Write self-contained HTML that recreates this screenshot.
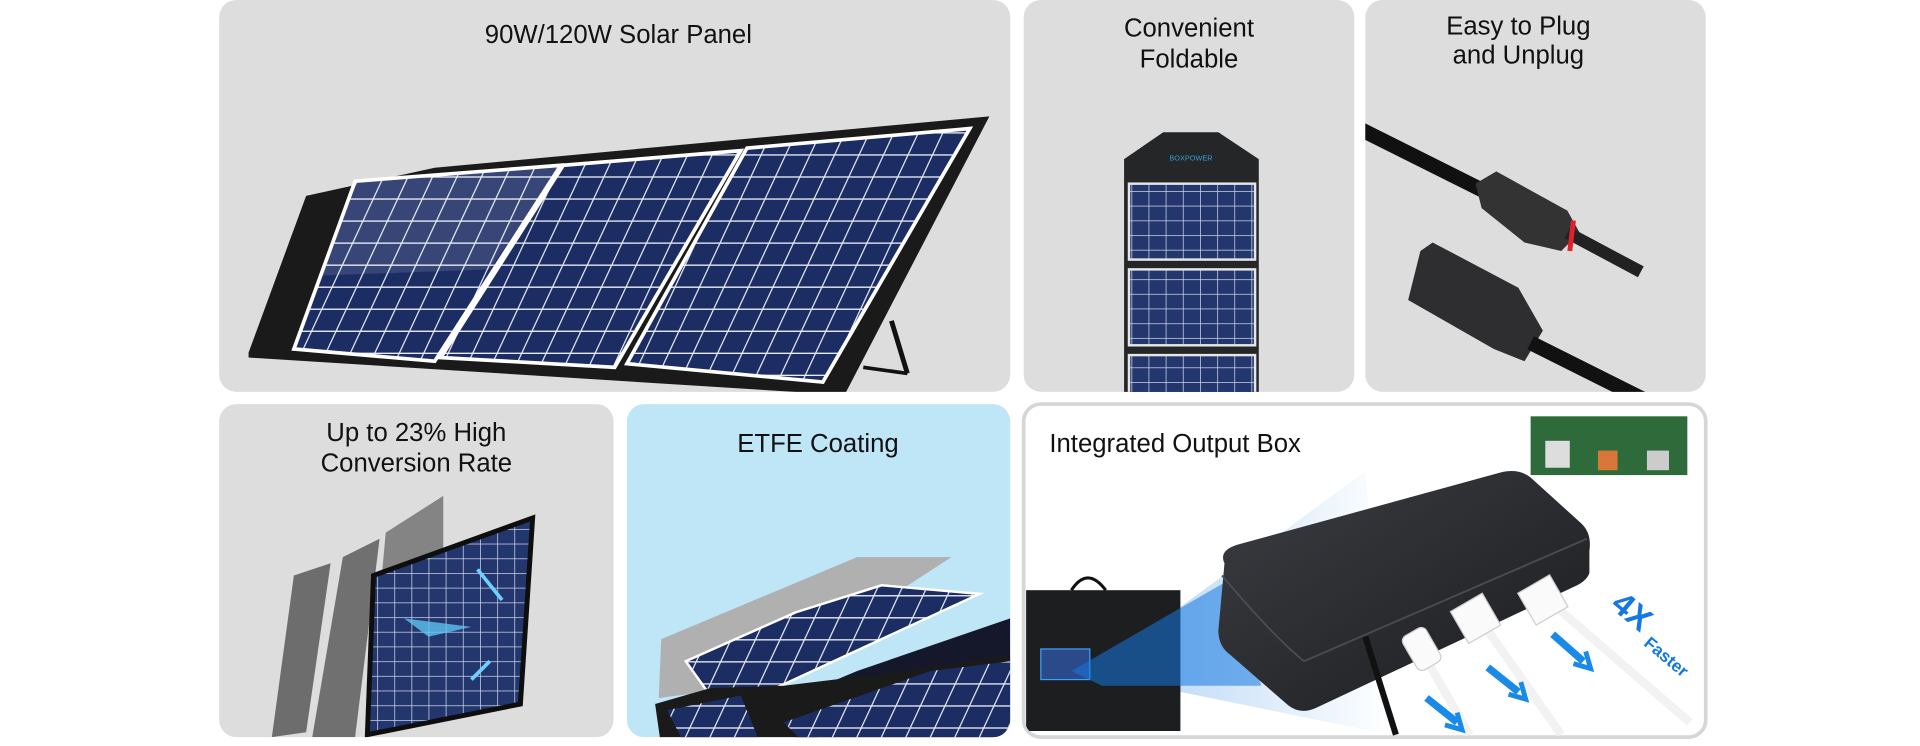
<!DOCTYPE html>
<html><head><meta charset="utf-8"><style>
html,body{margin:0;padding:0;background:#fff;width:1920px;height:746px;overflow:hidden}
svg{display:block}
text{font-family:"Liberation Sans",sans-serif;fill:#111}
</style></head><body>
<svg width="1920" height="746" viewBox="0 0 1568 609.25" preserveAspectRatio="none" xmlns="http://www.w3.org/2000/svg">
<defs>
<pattern id="cells" width="20" height="18" patternUnits="userSpaceOnUse" patternTransform="skewX(-25)">
<rect width="20" height="18" fill="#1c2d63"/><path d="M0 0H20M0 0V18" stroke="#e8ecf5" stroke-width="2.2"/></pattern>
<pattern id="cells2" width="14" height="12" patternUnits="userSpaceOnUse">
<rect width="14" height="12" fill="#24366e"/><path d="M0 0H14M0 0V12" stroke="#cfd6e6" stroke-width="1.2"/></pattern>
<linearGradient id="beam" x1="0" y1="0" x2="1" y2="0"><stop offset="0" stop-color="#1478e0"/><stop offset="1" stop-color="#1478e0" stop-opacity="0"/></linearGradient>
<linearGradient id="box" x1="0" y1="0" x2="1" y2="1"><stop offset="0" stop-color="#3b3d42"/><stop offset="1" stop-color="#1b1c1f"/></linearGradient>
<clipPath id="c1"><rect x="179" y="0" width="646" height="320" rx="14"/></clipPath>
<clipPath id="c2"><rect x="836" y="0" width="270" height="320" rx="14"/></clipPath>
<clipPath id="c3"><rect x="1115" y="0" width="278" height="320" rx="14"/></clipPath>
<clipPath id="c4"><rect x="179" y="330" width="322" height="272" rx="14"/></clipPath>
<clipPath id="c5"><rect x="512" y="330" width="313" height="272" rx="14"/></clipPath>
<clipPath id="c6"><rect x="837" y="331" width="555" height="270" rx="13"/></clipPath>
</defs>
<rect x="179" y="0" width="646" height="320" rx="14" fill="#dddddd"/>
<rect x="836" y="0" width="270" height="320" rx="14" fill="#dddddd"/>
<rect x="1115" y="0" width="278" height="320" rx="14" fill="#dddddd"/>
<rect x="179" y="330" width="322" height="272" rx="14" fill="#dddddd"/>
<rect x="512" y="330" width="313" height="272" rx="14" fill="#bfe6f7"/>
<rect x="836" y="330" width="557" height="272" rx="14" fill="#fff" stroke="#d6d6d6" stroke-width="3"/>

<g clip-path="url(#c1)">
<polygon points="203,288 250,160 355,137 808,95 690,322 680,322 203,292" fill="#1a1a1a"/>
<polygon points="240,285 290,148 458,135 355,295" fill="url(#cells)" stroke="#fff" stroke-width="3"/>
<polygon points="360,292 460,135 605,123 502,300" fill="url(#cells)" stroke="#fff" stroke-width="3"/>
<polygon points="512,297 610,121 792,105 672,312" fill="url(#cells)" stroke="#fff" stroke-width="3"/>
<polygon points="290,148 458,135 400,220 262,225" fill="#fff" opacity=".12"/>
<line x1="728" y1="262" x2="741" y2="305" stroke="#111" stroke-width="4"/>
<line x1="705" y1="300" x2="741" y2="305" stroke="#111" stroke-width="3"/>
</g>
<g clip-path="url(#c2)">
<polygon points="918,130 950,108 995,108 1028,130 1028,330 918,330" fill="#252628"/>
<rect x="922" y="150" width="103" height="62" fill="url(#cells2)" stroke="#e6e6e6" stroke-width="2"/>
<rect x="922" y="220" width="103" height="62" fill="url(#cells2)" stroke="#e6e6e6" stroke-width="2"/>
<rect x="922" y="290" width="103" height="40" fill="url(#cells2)" stroke="#e6e6e6" stroke-width="2"/>
<text x="955" y="131" font-size="6" style="fill:#3a9ad9">BOXPOWER</text>
</g>
<g clip-path="url(#c3)">
<line x1="1110" y1="105" x2="1230" y2="165" stroke="#111" stroke-width="12"/>
<polygon points="1205,150 1222,140 1280,172 1290,190 1275,205 1245,198 1210,170" fill="#333"/>
<line x1="1280" y1="190" x2="1340" y2="222" stroke="#222" stroke-width="10"/>
<line x1="1285" y1="180" x2="1282" y2="205" stroke="#e0202a" stroke-width="4"/>
<polygon points="1160,205 1170,198 1240,235 1260,270 1245,295 1220,285 1150,245" fill="#2e2e30"/>
<line x1="1250" y1="280" x2="1350" y2="330" stroke="#111" stroke-width="12"/>
</g>
<g clip-path="url(#c4)">
<polygon points="240,470 270,460 250,598 222,602" fill="#6d6d6d"/>
<polygon points="280,455 310,440 290,602 255,602" fill="#707070"/>
<polygon points="315,435 362,405 362,560 300,602" fill="#7a7a7a" opacity=".9"/>
<polygon points="305,470 435,423 425,575 300,600" fill="url(#cells2)" stroke="#0e0e0e" stroke-width="4"/>
<polygon points="330,505 385,512 350,520" fill="#5ec3f0" opacity=".8"/>
<line x1="390" y1="465" x2="410" y2="490" stroke="#6fd0ff" stroke-width="3"/>
<line x1="385" y1="555" x2="400" y2="540" stroke="#6fd0ff" stroke-width="3"/>
</g>
<g clip-path="url(#c5)">
<polygon points="538,570 540,522 700,455 777,455 615,560" fill="#b0b0b0"/>
<polygon points="650,500 560,540 590,582 800,485 720,478" fill="url(#cells)" stroke="#fff" stroke-width="2"/>
<polygon points="600,590 700,548 825,505 825,540 660,605" fill="#14182a"/>
<polygon points="535,575 580,562 640,560 740,548 825,535 825,610 540,610" fill="#1a1a1a"/>
<polygon points="545,580 605,568 620,605 560,610" fill="url(#cells)"/>
<polygon points="640,590 760,548 825,540 825,610 660,610" fill="url(#cells)"/>
</g>
<g clip-path="url(#c6)">
<polygon points="890,550 1115,385 1135,600" fill="url(#beam)" opacity=".35"/>
<rect x="838" y="482" width="126" height="115" fill="#1d1e20"/>
<path d="M875 482 Q888 462 903 482" stroke="#111" stroke-width="2.5" fill="none"/>
<rect x="850" y="530" width="40" height="25" fill="#2b4a8a" stroke="#3aa0ff"/>
<polygon points="875,548 1010,470 1030,560 900,560" fill="#1478e0" opacity=".55"/>
<path d="M1000 460 Q995 450 1010 445 L1225 386 Q1240 382 1250 390 L1292 428 Q1300 436 1298 450 L1298 468 Q1296 474 1288 478 L1075 578 Q1062 584 1052 576 L1005 535 Q995 528 995 515 Z" fill="url(#box)"/>
<path d="M998 470 Q1040 520 1065 540 L1296 440" stroke="#4a4c52" stroke-width="1.5" fill="none"/>
<path d="M1115 520 L1140 600" stroke="#111" stroke-width="5"/>
<path d="M1160 530 L1200 600 M1208 505 L1275 600 M1262 488 L1380 590" stroke="#f2f2f2" stroke-width="7" fill="none"/>
<rect x="1150" y="514" width="22" height="32" rx="5" fill="#fafafa" stroke="#ccc" transform="rotate(-30 1161 530)"/>
<rect x="1190" y="490" width="30" height="30" fill="#fafafa" stroke="#ccc" transform="rotate(-30 1205 505)"/>
<rect x="1245" y="475" width="30" height="30" fill="#fafafa" stroke="#ccc" transform="rotate(-30 1260 490)"/>
<path d="M1165 570 l25 20 M1215 545 l25 20 M1268 518 l25 22" stroke="#1a8ae8" stroke-width="6"/>
<path d="M1180 592 l14 4 l-4 -14 M1232 567 l14 4 l-4 -14 M1285 542 l14 4 l-4 -14" stroke="#1a8ae8" stroke-width="4" fill="none"/>
<rect x="1250" y="340" width="128" height="48" fill="#2f6b3a"/>
<rect x="1262" y="360" width="20" height="22" fill="#ddd"/><rect x="1305" y="368" width="16" height="16" fill="#d9763a"/><rect x="1345" y="368" width="18" height="16" fill="#ccc"/>
<text x="1300" y="505" font-size="27" font-weight="700" style="fill:#1478e0" transform="rotate(40 1320 520)">4X</text>
<text x="1335" y="535" font-size="14" font-weight="700" style="fill:#1478e0" transform="rotate(40 1350 540)">Faster</text>
</g>

<g font-size="21" text-anchor="middle">
<text x="505" y="35">90W/120W Solar Panel</text>
<text x="971" y="30">Convenient</text>
<text x="971" y="55">Foldable</text>
<text x="1240" y="28">Easy to Plug</text>
<text x="1240" y="52">and Unplug</text>
<text x="340" y="360">Up to 23% High</text>
<text x="340" y="385">Conversion Rate</text>
<text x="668" y="369">ETFE Coating</text>
<text x="857" y="369" text-anchor="start">Integrated Output Box</text>
</g>
</svg>
</body></html>
